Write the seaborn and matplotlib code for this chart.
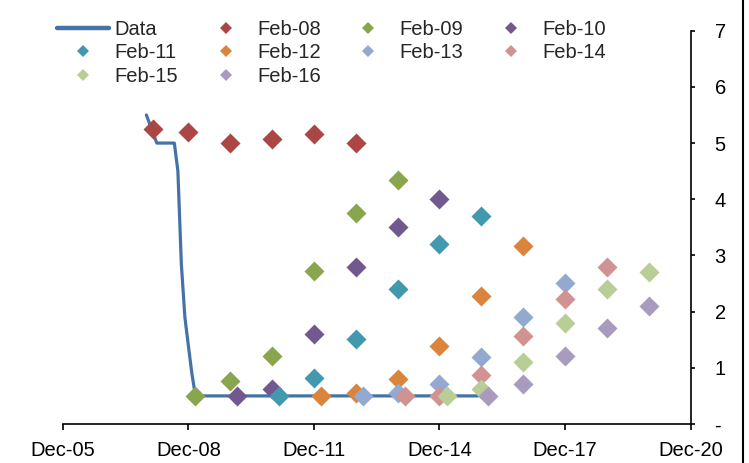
import matplotlib
matplotlib.use("Agg")
import matplotlib.pyplot as plt
import matplotlib.dates as mdates
from matplotlib.lines import Line2D
import pandas as pd
import seaborn as sns

# Policy rate outturn
data_dates = ["2007-12-01", "2008-03-01", "2008-08-01", "2008-09-01", "2008-10-01",
              "2008-11-01", "2008-12-01", "2009-01-01", "2009-02-01", "2015-11-01"]
data_values = [5.5, 5.0, 5.0, 4.5, 2.85, 1.9, 1.4, 0.9, 0.5, 0.5]

# Market-implied paths at each February
feb08_dates = ["2008-02-01", "2008-12-01", "2009-12-01", "2010-12-01", "2011-12-01", "2012-12-01"]
feb08_values = [5.25, 5.2, 5.0, 5.07, 5.16, 5.0]
feb09_dates = ["2009-02-01", "2009-12-01", "2010-12-01", "2011-12-01", "2012-12-01", "2013-12-01"]
feb09_values = [0.5, 0.77, 1.21, 2.72, 3.76, 4.35]
feb10_dates = ["2010-02-01", "2010-12-01", "2011-12-01", "2012-12-01", "2013-12-01", "2014-12-01"]
feb10_values = [0.5, 0.62, 1.6, 2.8, 3.5, 4.0]
feb11_dates = ["2011-02-01", "2011-12-01", "2012-12-01", "2013-12-01", "2014-12-01", "2015-12-01"]
feb11_values = [0.5, 0.82, 1.51, 2.4, 3.2, 3.71]
feb12_dates = ["2012-02-01", "2012-12-01", "2013-12-01", "2014-12-01", "2015-12-01", "2016-12-01"]
feb12_values = [0.5, 0.55, 0.8, 1.39, 2.27, 3.16]
feb13_dates = ["2013-02-01", "2013-12-01", "2014-12-01", "2015-12-01", "2016-12-01", "2017-12-01"]
feb13_values = [0.5, 0.55, 0.71, 1.2, 1.9, 2.51]
feb14_dates = ["2014-02-01", "2014-12-01", "2015-12-01", "2016-12-01", "2017-12-01", "2018-12-01"]
feb14_values = [0.5, 0.5, 0.87, 1.56, 2.22, 2.8]
feb15_dates = ["2015-02-01", "2015-12-01", "2016-12-01", "2017-12-01", "2018-12-01", "2019-12-01"]
feb15_values = [0.5, 0.63, 1.11, 1.8, 2.4, 2.7]
feb16_dates = ["2016-02-01", "2016-12-01", "2017-12-01", "2018-12-01", "2019-12-01"]
feb16_values = [0.5, 0.71, 1.21, 1.7, 2.1]

series_labels = ["Feb-08", "Feb-09", "Feb-10", "Feb-11", "Feb-12",
                 "Feb-13", "Feb-14", "Feb-15", "Feb-16"]
series_dates = [feb08_dates, feb09_dates, feb10_dates, feb11_dates, feb12_dates,
                feb13_dates, feb14_dates, feb15_dates, feb16_dates]
series_values = [feb08_values, feb09_values, feb10_values, feb11_values, feb12_values,
                 feb13_values, feb14_values, feb15_values, feb16_values]
series_colors = ["#AA4643", "#89A54E", "#71588F", "#4198AF", "#DB843D",
                 "#93A9CF", "#D19392", "#B9CD96", "#A99BBD"]
data_color = "#4572A7"

x_ticks = ["2005-12-01", "2008-12-01", "2011-12-01", "2014-12-01", "2017-12-01", "2020-12-01"]
y_ticks = [0, 1, 2, 3, 4, 5, 6, 7]
y_tick_labels = ["-", "1", "2", "3", "4", "5", "6", "7"]

FS = 14.5
sns.set_style("white")
plt.rcParams["font.family"] = ["Liberation Sans", "DejaVu Sans"]
plt.rcParams["font.size"] = FS

W, H = 749, 463
fig = plt.figure(figsize=(W / 100, H / 100), dpi=100)
ax = fig.add_axes([62.7 / W, 1 - 424 / H, 628 / W, 393.3 / H])

sns.lineplot(x=pd.to_datetime(data_dates), y=data_values, color=data_color,
             linewidth=2.3, ax=ax, legend=False, zorder=2)

for dates, vals, col in zip(series_dates, series_values, series_colors):
    sns.scatterplot(x=pd.to_datetime(dates), y=vals, marker="D", s=104, color=col,
                    linewidth=0, ax=ax, legend=False, zorder=3)

ax.set_xlim(pd.Timestamp(x_ticks[0]), pd.Timestamp(x_ticks[-1]))
ax.set_ylim(0, 7)
ax.set_xticks(pd.to_datetime(x_ticks))
ax.xaxis.set_major_formatter(mdates.DateFormatter("%b-%y"))
ax.yaxis.tick_right()
ax.set_yticks(y_ticks)
ax.set_yticklabels(y_tick_labels)
ax.set_xlabel("")
ax.set_ylabel("")

for side in ("left", "top"):
    ax.spines[side].set_visible(False)
for side in ("bottom", "right"):
    ax.spines[side].set_visible(True)
    ax.spines[side].set_color("black")
    ax.spines[side].set_linewidth(1.2)

ax.tick_params(axis="x", direction="out", length=4.3, width=1.2, color="black",
               pad=8, labelsize=FS, labelcolor="black", bottom=True)
ax.tick_params(axis="y", direction="out", length=3.2, width=1.2, color="black",
               pad=14, labelsize=FS, labelcolor="black", right=True, left=False)
ax.grid(False)

# legend laid out row by row: Data, Feb-08, Feb-09, Feb-10 / Feb-11 ... / Feb-15, Feb-16
handle_map = {"Data": Line2D([0], [0], color=data_color, linewidth=3.2)}
for lab, col in zip(series_labels, series_colors):
    handle_map[lab] = Line2D([0], [0], linestyle="none", marker="D", markersize=6.5,
                             markerfacecolor=col, markeredgewidth=0)
row_major = ["Data"] + series_labels
ncol = 4
order = [row_major[i] for c in range(ncol) for i in range(c, len(row_major), ncol)]
fig.legend([handle_map[k] for k in order], order, loc="upper left",
           bbox_to_anchor=(57 / W, 1 - 20 / H),
           ncol=ncol, frameon=False, fontsize=FS, borderpad=0, borderaxespad=0,
           handlelength=2.6, handletextpad=0.26, columnspacing=1.05,
           labelspacing=0.22)

# chart-area border on the right-hand edge
fig.add_artist(Line2D([743 / W, 743 / W], [0, 1], transform=fig.transFigure,
                      color="black", linewidth=1.5))

fig.savefig("out.png", dpi=100)
